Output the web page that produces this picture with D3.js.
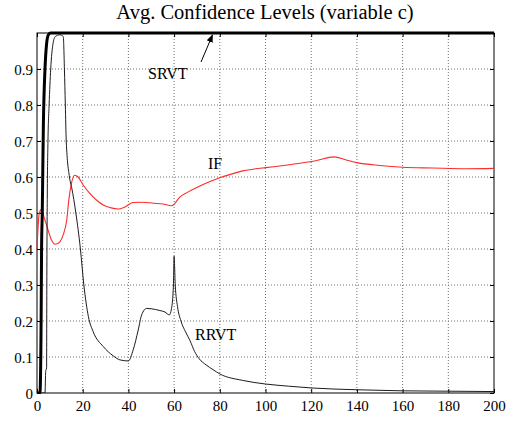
<!DOCTYPE html>
<html>
<head>
<meta charset="utf-8">
<script src="https://cdn.jsdelivr.net/npm/d3@7"></script>
<style>
  body { margin: 0; background: #fff; }
</style>
</head>
<body>
<div id="chart"></div>
<script>
// values
const xTicks = [0, 20, 40, 60, 80, 100, 120, 140, 160, 180, 200];
const yTicks = [0, 0.1, 0.2, 0.3, 0.4, 0.5, 0.6, 0.7, 0.8, 0.9];
const yTickLabels = ['0', '0.1', '0.2', '0.3', '0.4', '0.5', '0.6', '0.7', '0.8', '0.9'];

const srvtX = [0, 1.3, 1.8, 2.0, 2.3, 2.8, 3.5, 4.2, 5, 6, 200];
const srvtY = [0, 0, 0.2, 0.4, 0.5, 0.75, 0.9, 0.97, 0.995, 1, 1];

const rrvtX = [0, 3.5, 3.8, 4.2, 4.3, 4.5, 4.8, 5.3, 6, 7, 8, 10, 11.5, 12, 12.4, 12.8, 14.2, 15.2, 17, 19, 20.5, 21.5, 22.5, 24.6, 29, 33.4, 36.3, 40, 42.1, 44.3, 45.8, 48, 50, 53.8, 56, 57.9, 59, 59.7, 60, 60.5, 61.5, 63, 65, 67, 69, 71, 74, 77, 80, 90, 100, 110, 120, 140, 160, 180, 200];
const rrvtY = [0, 0, 0.06, 0.07, 0.3, 0.55, 0.7, 0.8, 0.9, 0.97, 0.99, 0.995, 0.99, 0.9, 0.8, 0.7, 0.6, 0.57, 0.5, 0.4, 0.3, 0.25, 0.212, 0.17, 0.129, 0.103, 0.092, 0.089, 0.12, 0.175, 0.217, 0.235, 0.234, 0.229, 0.225, 0.217, 0.24, 0.3, 0.38, 0.3, 0.24, 0.2, 0.17, 0.145, 0.115, 0.095, 0.078, 0.065, 0.053, 0.035, 0.025, 0.019, 0.014, 0.009, 0.006, 0.005, 0.004];

const ifX = [0, 1, 2, 3, 4.5, 6, 8, 10, 11.5, 13, 14, 15, 16.5, 18, 20, 23, 26, 29, 32, 35.6, 38, 42, 46, 51, 55, 59, 62.6, 66, 71.3, 76, 80, 85, 90, 95, 100, 108, 115, 122, 130, 135, 140, 150, 160, 173, 188, 200];
const ifY = [0.4, 0.5, 0.51, 0.49, 0.46, 0.43, 0.413, 0.42, 0.44, 0.48, 0.54, 0.58, 0.605, 0.6, 0.58, 0.555, 0.536, 0.522, 0.515, 0.511, 0.515, 0.529, 0.53, 0.527, 0.525, 0.52, 0.545, 0.558, 0.575, 0.588, 0.598, 0.608, 0.617, 0.622, 0.626, 0.632, 0.638, 0.645, 0.656, 0.648, 0.64, 0.632, 0.627, 0.625, 0.623, 0.624];

const serif = '"Liberation Serif"';

const width = 516, height = 444;
const margin = { top: 33, right: 22, bottom: 51, left: 37 };
const innerW = width - margin.left - margin.right;
const innerH = height - margin.top - margin.bottom;

const svg = d3.select('#chart').append('svg')
    .attr('width', width)
    .attr('height', height);

svg.append('text')
    .attr('x', 265)
    .attr('y', 19)
    .attr('text-anchor', 'middle')
    .style('font-family', serif)
    .style('font-size', '20.5px')
    .text('Avg. Confidence Levels (variable c)');

const g = svg.append('g')
    .attr('transform', `translate(${margin.left},${margin.top})`);

const x = d3.scaleLinear().domain([0, 200]).range([0, innerW]);
const y = d3.scaleLinear().domain([0, 1]).range([innerH, 0]);

// dotted grid
g.append('g').selectAll('line')
    .data(xTicks.slice(1, -1))
    .enter().append('line')
    .attr('x1', d => x(d)).attr('x2', d => x(d))
    .attr('y1', 0).attr('y2', innerH)
    .attr('stroke', '#707070')
    .attr('stroke-dasharray', '1,2');

g.append('g').selectAll('line')
    .data(yTicks.slice(1))
    .enter().append('line')
    .attr('x1', 0).attr('x2', innerW)
    .attr('y1', d => y(d)).attr('y2', d => y(d))
    .attr('stroke', '#707070')
    .attr('stroke-dasharray', '1,2');

// axes with inward ticks
const bottomAxis = g.append('g')
    .attr('transform', `translate(0,${innerH})`)
    .call(d3.axisBottom(x).tickValues(xTicks).tickSizeInner(-4).tickSizeOuter(0).tickPadding(7));
const leftAxis = g.append('g')
    .call(d3.axisLeft(y).tickValues(yTicks).tickFormat((d, i) => yTickLabels[i]).tickSizeInner(-4).tickSizeOuter(0).tickPadding(4));
g.append('g')
    .attr('transform', `translate(${innerW},0)`)
    .call(d3.axisRight(y).tickValues(yTicks).tickFormat('').tickSizeInner(-4).tickSizeOuter(0));
g.append('g')
    .call(d3.axisTop(x).tickValues(xTicks).tickFormat('').tickSizeInner(-4).tickSizeOuter(0));

g.selectAll('.domain').remove();
[bottomAxis, leftAxis].forEach(a => a.selectAll('text')
    .style('font-family', serif)
    .style('font-size', '15px')
    .attr('fill', '#000'));
leftAxis.selectAll('text').attr('dy', '0.36em');
g.selectAll('.tick line').attr('stroke', '#000');

g.append('rect')
    .attr('width', innerW)
    .attr('height', innerH)
    .attr('fill', 'none')
    .attr('stroke', '#000')
    .attr('stroke-width', 1);

// series
g.append('clipPath').attr('id', 'clip')
    .append('rect').attr('x', -2).attr('y', -2).attr('width', innerW + 4).attr('height', innerH + 2);

const line = d3.line()
    .x(d => x(d[0]))
    .y(d => y(d[1]))
    .curve(d3.curveMonotoneX);

const series = [
    { xs: ifX, ys: ifY, color: '#ff2a2a', w: 1.1 },
    { xs: rrvtX, ys: rrvtY, color: '#221822', w: 1 },
    { xs: srvtX, ys: srvtY, color: '#000', w: 3 }
];

series.forEach(s => {
    g.append('path')
        .datum(s.xs.map((v, i) => [v, s.ys[i]]))
        .attr('clip-path', 'url(#clip)')
        .attr('fill', 'none')
        .attr('stroke', s.color)
        .attr('stroke-width', s.w)
        .attr('d', line);
});

// labels
const labels = [
    { text: 'SRVT', x: 148, y: 79 },
    { text: 'IF', x: 208, y: 169 },
    { text: 'RRVT', x: 195, y: 340 }
];
svg.selectAll('text.lbl')
    .data(labels)
    .enter().append('text')
    .attr('class', 'lbl')
    .attr('x', d => d.x)
    .attr('y', d => d.y)
    .style('font-family', serif)
    .style('font-size', '16px')
    .text(d => d.text);

// arrow to SRVT line
svg.append('defs').append('marker')
    .attr('id', 'arrow')
    .attr('viewBox', '0 0 10 10')
    .attr('refX', 9).attr('refY', 5)
    .attr('markerWidth', 8).attr('markerHeight', 8)
    .attr('orient', 'auto')
    .append('path')
    .attr('d', 'M0,1 L10,5 L0,9 Z')
    .attr('fill', '#000');

svg.append('line')
    .attr('x1', 201).attr('y1', 62)
    .attr('x2', 212.5).attr('y2', 35)
    .attr('stroke', '#000')
    .attr('stroke-width', 1)
    .attr('marker-end', 'url(#arrow)');
</script>
</body>
</html>
